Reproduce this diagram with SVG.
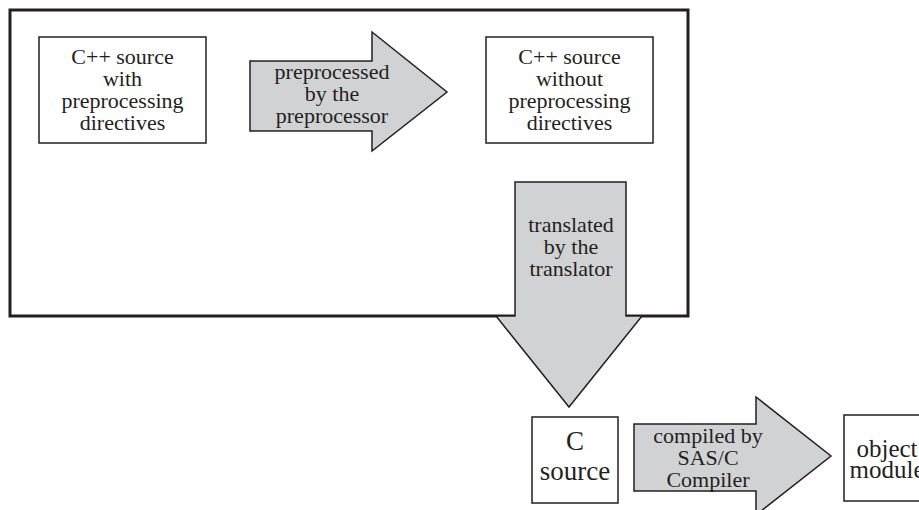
<svg xmlns="http://www.w3.org/2000/svg" width="919" height="510" viewBox="0 0 919 510">
<style>
.box{fill:#fff;stroke:#231f20;stroke-width:1.5}
.arr{fill:#d1d2d4;stroke:#231f20;stroke-width:1.5;stroke-linejoin:miter}
text{font-family:"Liberation Serif","Times New Roman",serif;fill:#231f20;text-anchor:middle}
.t22{font-size:22px}
.t27{font-size:27px}
.t25{font-size:25px}
</style>
<rect width="919" height="510" fill="#fff"/>
<g id="frame">
<rect x="10" y="10" width="678" height="306" fill="none" stroke="#231f20" stroke-width="3"/>
</g>
<g id="cpp-with">
<rect class="box" x="39" y="37" width="167" height="106"/>
<text class="t22" x="122.5" y="64">C++ source</text>
<text class="t22" x="122.5" y="86">with</text>
<text class="t22" x="122.5" y="108">preprocessing</text>
<text class="t22" x="122.5" y="130">directives</text>
</g>
<g id="cpp-without">
<rect class="box" x="486" y="37" width="167" height="106"/>
<text class="t22" x="569.5" y="64">C++ source</text>
<text class="t22" x="569.5" y="86">without</text>
<text class="t22" x="569.5" y="108">preprocessing</text>
<text class="t22" x="569.5" y="130">directives</text>
</g>
<g id="c-source">
<rect class="box" x="532" y="417" width="86" height="86"/>
<text class="t27" x="575" y="450">C</text>
<text class="t27" x="575" y="480">source</text>
</g>
<g id="object-module">
<rect class="box" x="844" y="415" width="86" height="86"/>
<text class="t25" x="887" y="457">object</text>
<text class="t25" x="887" y="478">module</text>
</g>
<g id="connectors">
<g id="preprocess">
<polygon class="arr" points="250,61 372,61 372,32 447,92 372,151 372,131 250,131"/>
<text class="t22" x="332" y="79">preprocessed</text>
<text class="t22" x="332" y="101">by the</text>
<text class="t22" x="332" y="123">preprocessor</text>
</g>
<g id="translate">
<polygon class="arr" points="515,182 626,182 626,316 642,316 569,407 496,316 515,316"/>
<text class="t22" x="571" y="232">translated</text>
<text class="t22" x="571" y="254">by the</text>
<text class="t22" x="571" y="276">translator</text>
</g>
<g id="compile">
<polygon class="arr" points="634,424 756,424 756,397 831,456 756,515 756,491 634,491"/>
<text class="t22" x="708" y="443">compiled by</text>
<text class="t22" x="708" y="465">SAS/C</text>
<text class="t22" x="708" y="487">Compiler</text>
</g>
</g>
</svg>
